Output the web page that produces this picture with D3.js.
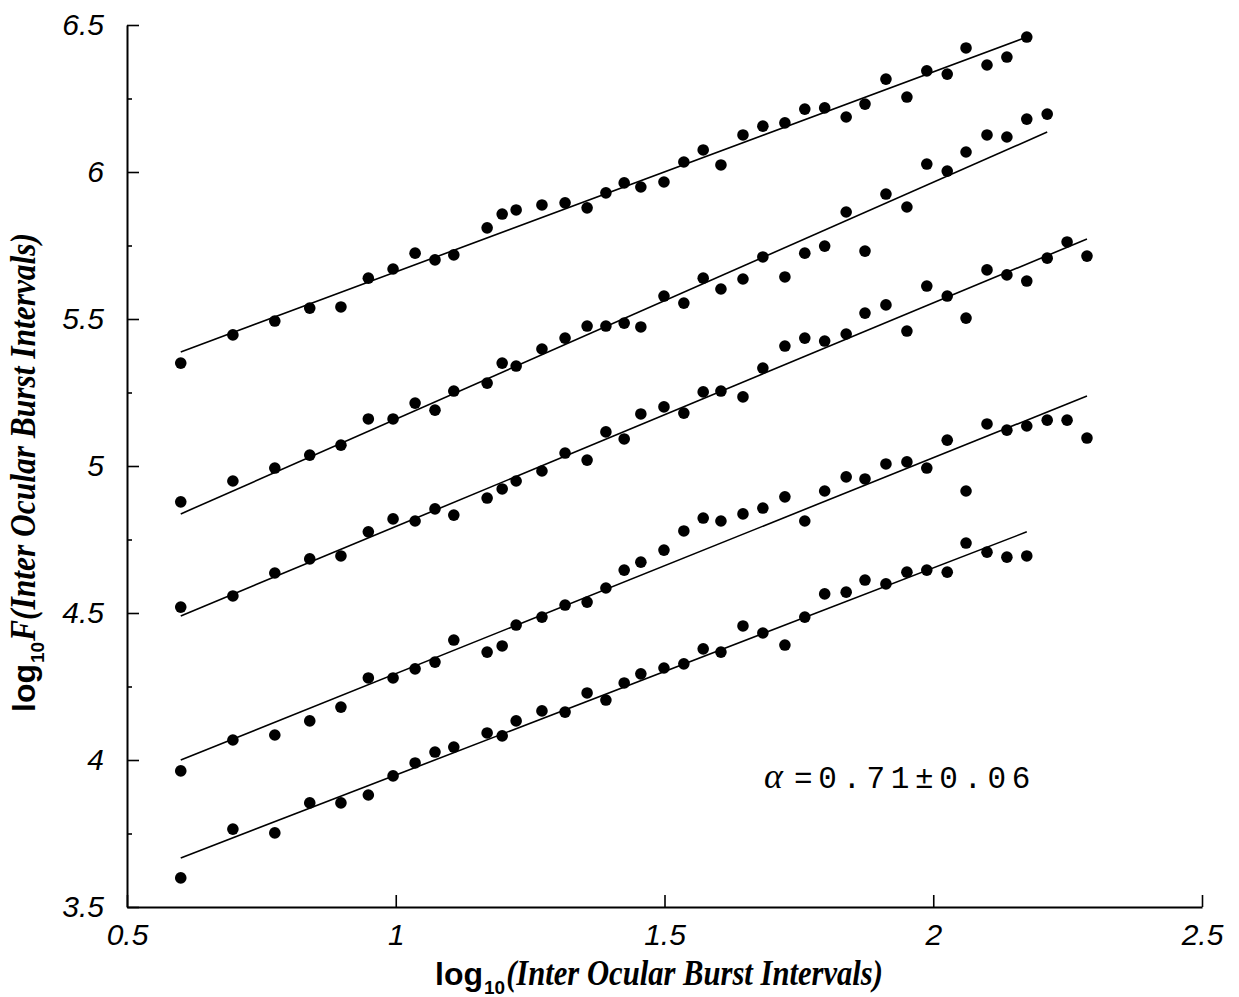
<!DOCTYPE html>
<html>
<head>
<meta charset="utf-8">
<script src="https://cdn.jsdelivr.net/npm/d3@7"></script>
<style>
  html, body { margin: 0; padding: 0; background: #fff; }
  svg { display: block; }
</style>
</head>
<body>
<div id="chart"></div>
<script>

// box sizes on the x axis (log10), shared by all five series
var xVals = [0.600, 0.697, 0.775, 0.840, 0.898, 0.949, 0.995, 1.036, 1.073, 1.108,
             1.170, 1.198, 1.224, 1.272, 1.315, 1.356, 1.391, 1.425, 1.456, 1.499,
             1.536, 1.572, 1.605, 1.646, 1.683, 1.724, 1.761, 1.798, 1.838, 1.873,
             1.912, 1.951, 1.988, 2.026, 2.061, 2.100, 2.137, 2.174, 2.212, 2.249, 2.286];

var s1 = [5.350, 5.446, 5.493, 5.537, 5.541, 5.639, 5.670, 5.724, 5.701, 5.718,
          5.810, 5.857, 5.871, 5.888, 5.895, 5.878, 5.929, 5.963, 5.949, 5.966,
          6.034, 6.075, 6.024, 6.126, 6.156, 6.167, 6.214, 6.218, 6.187, 6.231,
          6.316, 6.255, 6.344, 6.333, 6.422, 6.364, 6.391, 6.459];
var s2 = [4.878, 4.949, 4.993, 5.037, 5.071, 5.160, 5.160, 5.214, 5.190, 5.255,
          5.282, 5.350, 5.340, 5.398, 5.435, 5.476, 5.476, 5.486, 5.473, 5.578,
          5.554, 5.639, 5.602, 5.636, 5.711, 5.643, 5.724, 5.748, 5.864, 5.731,
          5.925, 5.881, 6.027, 6.003, 6.068, 6.126, 6.119, 6.180, 6.197];
var s3 = [4.520, 4.558, 4.636, 4.684, 4.694, 4.776, 4.820, 4.813, 4.854, 4.833,
          4.891, 4.922, 4.949, 4.983, 5.044, 5.020, 5.116, 5.092, 5.177, 5.201,
          5.180, 5.252, 5.255, 5.235, 5.333, 5.408, 5.435, 5.425, 5.449, 5.520,
          5.548, 5.459, 5.612, 5.578, 5.503, 5.667, 5.650, 5.629, 5.707, 5.762, 5.714];
var s4 = [3.963, 4.068, 4.085, 4.133, 4.180, 4.279, 4.279, 4.310, 4.333, 4.408,
          4.367, 4.388, 4.459, 4.486, 4.527, 4.537, 4.585, 4.646, 4.673, 4.714,
          4.779, 4.823, 4.813, 4.837, 4.857, 4.895, 4.813, 4.915, 4.963, 4.956,
          5.007, 5.014, 4.993, 5.088, 4.915, 5.143, 5.122, 5.136, 5.156, 5.156, 5.095];
var s5 = [3.599, 3.765, 3.752, 3.854, 3.854, 3.881, 3.946, 3.990, 4.027, 4.044,
          4.092, 4.082, 4.133, 4.167, 4.163, 4.228, 4.204, 4.262, 4.293, 4.313,
          4.327, 4.378, 4.367, 4.456, 4.432, 4.391, 4.486, 4.565, 4.571, 4.612,
          4.599, 4.639, 4.646, 4.639, 4.738, 4.707, 4.690, 4.694];

// fitted lines, value at first and last point of each series
var fitStart = [5.388, 4.837, 4.490, 4.000, 3.667];
var fitEnd   = [6.459, 6.136, 5.772, 5.238, 4.776];

var xTicks = [0.5, 1, 1.5, 2, 2.5];
var yTicks = [3.5, 4, 4.5, 5, 5.5, 6, 6.5];
var yMinor = [3.75, 4.25, 4.75, 5.25, 5.75, 6.25];

var W = 1239, H = 997;

var svg = d3.select("#chart").append("svg")
    .attr("width", W)
    .attr("height", H);

var x = d3.scaleLinear().domain([0.5, 2.5]).range([127, 1202]);
var y = d3.scaleLinear().domain([3.5, 6.5]).range([907, 25]);

var tickFont = "'Liberation Sans', Arial, sans-serif";

// y axis, ticks point inward
var yAxis = svg.append("g")
    .attr("transform", "translate(" + x(0.5) + ",0)")
    .call(d3.axisLeft(y).tickValues(yTicks).tickSize(-12).tickSizeOuter(0)
          .tickPadding(23).tickFormat(function (d) { return d; }));
svg.append("g")
    .attr("transform", "translate(" + x(0.5) + ",0)")
    .call(d3.axisLeft(y).tickValues(yMinor).tickSize(-5).tickFormat(""))
    .select(".domain").remove();

var xAxis = svg.append("g")
    .attr("transform", "translate(0," + y(3.5) + ")")
    .call(d3.axisBottom(x).tickValues(xTicks).tickSize(-12).tickSizeOuter(0)
          .tickPadding(17).tickFormat(function (d) { return d; }));

svg.selectAll(".domain").attr("stroke", "#000").attr("stroke-width", 2);
svg.selectAll(".tick line").attr("stroke", "#000").attr("stroke-width", 1.6);
svg.selectAll(".tick text")
    .attr("fill", "#000")
    .style("font-family", tickFont)
    .style("font-style", "italic")
    .style("font-size", "30px");

// series
var series = [s1, s2, s3, s4, s5];

series.forEach(function (s, k) {
    var pts = s.map(function (v, i) { return [xVals[i], v]; });
    var last = pts.length - 1;

    svg.append("path")
        .datum([[xVals[0], fitStart[k]], [xVals[last], fitEnd[k]]])
        .attr("fill", "none")
        .attr("stroke", "#000")
        .attr("stroke-width", 1.6)
        .attr("d", d3.line()
            .x(function (d) { return x(d[0]); })
            .y(function (d) { return y(d[1]); }));

    svg.append("g").selectAll("circle")
        .data(pts)
        .enter().append("circle")
        .attr("cx", function (d) { return x(d[0]); })
        .attr("cy", function (d) { return y(d[1]); })
        .attr("r", 5.8)
        .attr("fill", "#000");
});

// axis titles: "log" + subscript 10 + bold italic serif part squeezed to a length
function title(g, serifText, total) {
    var lg = g.append("text")
        .attr("x", 0).attr("y", 0)
        .style("font-family", tickFont)
        .style("font-weight", "bold")
        .style("font-size", "32px")
        .text("log");
    var w1 = lg.node().getComputedTextLength();
    var sub = g.append("text")
        .attr("x", w1 + 1).attr("y", 9)
        .style("font-family", tickFont)
        .style("font-weight", "bold")
        .style("font-size", "19px")
        .text("10");
    var w2 = sub.node().getComputedTextLength();
    var start = w1 + w2 + 2;
    g.append("text")
        .attr("x", start).attr("y", 0)
        .attr("textLength", total - start)
        .attr("lengthAdjust", "spacingAndGlyphs")
        .style("font-family", "'Liberation Serif', 'Times New Roman', serif")
        .style("font-weight", "bold")
        .style("font-style", "italic")
        .style("font-size", "35px")
        .text(serifText);
}

title(svg.append("g").attr("transform", "translate(435,985)"),
      "(Inter Ocular Burst Intervals)", 448);
title(svg.append("g").attr("transform", "translate(35,712) rotate(-90)"),
      "F(Inter Ocular Burst Intervals)", 479);

// exponent annotation
svg.append("text")
    .attr("x", 764).attr("y", 788)
    .style("font-family", "'Liberation Serif', serif")
    .style("font-style", "italic")
    .style("font-size", "36px")
    .text("\u03b1");
svg.append("text")
    .attr("x", 794).attr("y", 788)
    .style("font-family", "'Liberation Mono', 'DejaVu Sans Mono', monospace")
    .style("font-size", "31px")
    .style("letter-spacing", "5.6px")
    .text("=0.71\u00b10.06");

</script>
</body>
</html>
